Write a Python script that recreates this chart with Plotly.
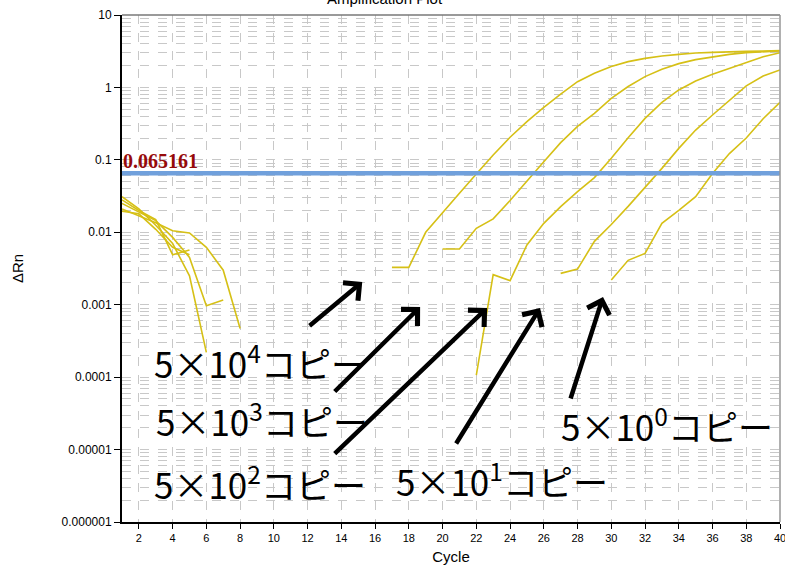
import plotly.graph_objects as go

cycles = list(range(1, 41))
N = None
threshold = 0.065161

# ΔRn per cycle (None = not shown on log scale)
copies_5e4 = [0.031, 0.021, 0.0125, 0.0070, 0.0025, 0.00022, N, N, N, N,
              N, N, N, N, N, N, 0.00328, 0.00328, 0.0100, 0.0189,
              0.0345, 0.0638, 0.117, 0.205, 0.337, 0.531, 0.811, 1.20, 1.57, 1.94,
              2.27, 2.52, 2.72, 2.86, 2.99, 3.05, 3.12, 3.15, 3.18, 3.22]
copies_5e3 = [0.025, 0.019, 0.0145, 0.0085, 0.0045, 0.00097, 0.00116, N, N, N,
              N, N, N, N, N, N, N, N, N, 0.00588,
              0.00588, 0.01135, 0.0153, 0.0274, 0.050, 0.0944, 0.173, 0.29, 0.438, 0.708,
              1.03, 1.41, 1.78, 2.13, 2.42, 2.66, 2.86, 3.02, 3.12, 3.18]
copies_5e2 = [0.021, 0.017, 0.0135, 0.0105, 0.0098, 0.0062, 0.0030, 0.00047, N, N,
              N, N, N, N, N, N, N, N, N, N,
              N, 0.000107, 0.00260, 0.00215, 0.00668, 0.0133, 0.0226, 0.0364, 0.0568, 0.105,
              0.202, 0.374, 0.622, 0.923, 1.23, 1.52, 1.84, 2.20, 2.66, 3.02]
copies_5e1 = [0.028, 0.020, 0.0150, 0.0049, 0.0057, N, N, N, N, N,
              N, N, N, N, N, N, N, N, N, N,
              N, N, N, N, N, N, 0.00271, 0.0031, 0.0075, 0.0128,
              0.0228, 0.0410, 0.0763, 0.144, 0.258, 0.416, 0.671, 1.05, 1.44, 1.74]
copies_5e0 = [0.0195, 0.018, 0.011, 0.0062, 0.0049, N, N, N, N, N,
              N, N, N, N, N, N, N, N, N, N,
              N, N, N, N, N, N, N, N, N, 0.0022,
              0.00410, 0.0051, 0.0133, 0.0200, 0.031, 0.065, 0.122, 0.200, 0.37, 0.622]

series = [copies_5e4, copies_5e3, copies_5e2, copies_5e1, copies_5e0]

x_ticks = list(range(2, 41, 2))
y_ticks = [1e-6, 1e-5, 1e-4, 1e-3, 1e-2, 1e-1, 1, 10]
y_ticktext = ["0.000001", "0.00001", "0.0001", "0.001", "0.01", "0.1", "1", "10"]

labels = ["5×10<sup>4</sup>コピー", "5×10<sup>3</sup>コピー", "5×10<sup>2</sup>コピー",
          "5×10<sup>1</sup>コピー", "5×10<sup>0</sup>コピー"]
# label anchor (cycle, log10 ΔRn)
label_x = [2.75, 2.9, 2.75, 17.15, 26.9]
label_y = [-3.79, -4.59, -5.46, -5.42, -4.66]
# arrows: head and tail (cycle, log10 ΔRn)
arrow_head_x = [15.24, 18.67, 22.64, 25.78, 29.51]
arrow_head_y = [-2.686, -3.031, -3.045, -3.045, -2.893]
arrow_tail_x = [12.03, 13.52, 13.52, 20.75, 27.56]
arrow_tail_y = [-3.308, -4.219, -5.075, -4.937, -4.316]

curve_color = "rgb(214,192,22)"
grid_color = "rgb(200,200,200)"

fig = go.Figure()
for s in series:
    fig.add_trace(go.Scatter(x=cycles, y=s, mode="lines",
                             line=dict(color=curve_color, width=1.6),
                             connectgaps=False, showlegend=False, hoverinfo="skip"))

fig.add_trace(go.Scatter(x=[1, 40], y=[threshold, threshold], mode="lines",
                         line=dict(color="rgb(112,160,220)", width=4.5),
                         showlegend=False, hoverinfo="skip"))

minor_vals = [k * 10.0 ** d for d in range(-6, 1) for k in range(2, 10)]

fig.update_layout(
    width=785, height=575,
    margin=dict(l=122, r=5, t=15, b=53, autoexpand=False),
    plot_bgcolor="white", paper_bgcolor="white",
    font=dict(family="Liberation Sans, Arial, sans-serif", color="black"),
    xaxis=dict(range=[1, 40], tickvals=x_ticks, ticks="outside", ticklen=5,
               tickcolor="black", tickfont=dict(size=11),
               ticklabeloverflow="allow", automargin=False,
               showline=True, linecolor="black", linewidth=2,
               showgrid=True, gridcolor=grid_color, griddash="dash", gridwidth=1,
               zeroline=False,
               title=dict(text="Cycle", font=dict(size=15), standoff=8)),
    yaxis=dict(type="log", range=[-6, 1], tickvals=y_ticks, ticktext=y_ticktext,
               ticks="outside", ticklen=6, tickcolor="black", tickfont=dict(size=12),
               automargin=False,
               showline=True, linecolor="black", linewidth=2,
               showgrid=True, gridcolor=grid_color, griddash="dash", gridwidth=1,
               zeroline=False,
               minor=dict(tickvals=minor_vals, showgrid=True, gridcolor=grid_color,
                          griddash="dash", gridwidth=1, ticks=""),
               title=dict(text="ΔRn", font=dict(size=15), standoff=34)),
)

# frame top/right
fig.add_shape(type="line", xref="paper", yref="paper", x0=0, x1=1, y0=1, y1=1,
              line=dict(color="rgb(120,120,120)", width=1.5))
fig.add_shape(type="line", xref="paper", yref="paper", x0=1, x1=1, y0=0, y1=1,
              line=dict(color="rgb(150,150,150)", width=1.5))

# title (cut off at top, as in the original)
fig.add_annotation(text="Amplification Plot", xref="paper", yref="paper",
                   x=(385 - 122) / 658, y=1, xanchor="center", yanchor="bottom",
                   yshift=6, showarrow=False,
                   font=dict(size=15, color="black", family="Liberation Sans, Arial"))

# threshold label
fig.add_annotation(text="<b>0.065161</b>", x=1, y=-1.186, xref="x", yref="y",
                   xanchor="left", yanchor="bottom", xshift=-1, yshift=-1,
                   showarrow=False,
                   font=dict(size=20, color="rgb(150,10,10)",
                             family="Liberation Serif, Times New Roman, serif"))

for t, lx, ly in zip(labels, label_x, label_y):
    fig.add_annotation(text=t, x=lx, y=ly, xref="x", yref="y",
                       xanchor="left", yanchor="middle", showarrow=False,
                       font=dict(size=35, color="black", family="Noto Sans CJK JP"))

for hx, hy, tx, ty in zip(arrow_head_x, arrow_head_y, arrow_tail_x, arrow_tail_y):
    fig.add_annotation(text="", x=hx, y=hy, xref="x", yref="y",
                       ax=tx, ay=ty, axref="x", ayref="y",
                       showarrow=True, arrowhead=4, arrowsize=1, arrowwidth=4.5,
                       arrowcolor="black", standoff=0)

fig.write_html("out.html")
